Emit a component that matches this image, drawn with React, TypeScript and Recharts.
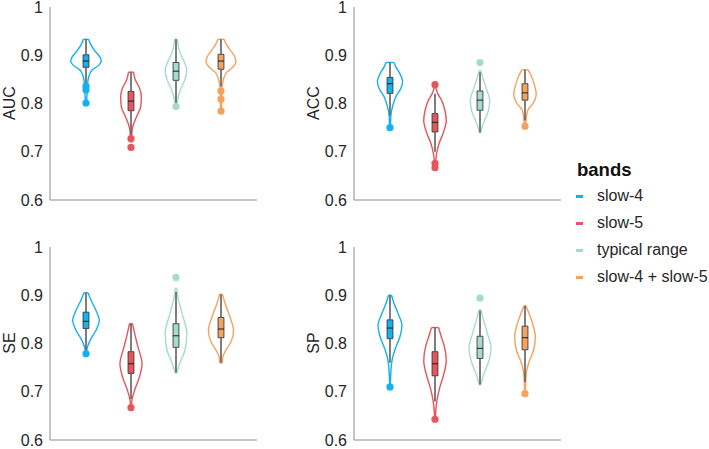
import React from 'react';
import { ComposedChart, Line, Scatter, XAxis, YAxis, ReferenceArea, ReferenceLine } from 'recharts';

const bands = ['slow-4', 'slow-5', 'typical range', 'slow-4 + slow-5'];
const bandColors = ['#12b1ef', '#e9535b', '#a5dccd', '#f5a25e'];
const yTicks = [0.6, 0.7, 0.8, 0.9, 1];

// [lower whisker, q1, median, q3, upper whisker] per band
const aucBoxes = [
  [0.84, 0.875, 0.888, 0.901, 0.933],
  [0.735, 0.785, 0.805, 0.825, 0.865],
  [0.8, 0.848, 0.867, 0.885, 0.933],
  [0.835, 0.871, 0.888, 0.902, 0.933],
];
const accBoxes = [
  [0.775, 0.821, 0.841, 0.854, 0.885],
  [0.7, 0.741, 0.761, 0.779, 0.82],
  [0.74, 0.786, 0.807, 0.826, 0.865],
  [0.765, 0.807, 0.822, 0.841, 0.87],
];
const seBoxes = [
  [0.785, 0.831, 0.846, 0.865, 0.905],
  [0.685, 0.738, 0.758, 0.783, 0.841],
  [0.74, 0.792, 0.816, 0.841, 0.907],
  [0.76, 0.812, 0.83, 0.854, 0.902],
];
const spBoxes = [
  [0.76, 0.81, 0.832, 0.849, 0.9],
  [0.68, 0.733, 0.758, 0.783, 0.833],
  [0.715, 0.769, 0.79, 0.815, 0.868],
  [0.72, 0.787, 0.812, 0.836, 0.878],
];

// outlier points per band
const aucOutliers = [[0.836, 0.828, 0.801], [0.727, 0.709], [0.794], [0.826, 0.809, 0.784]];
const accOutliers = [[0.75], [0.839, 0.676, 0.667], [0.885], [0.753]];
const seOutliers = [[0.779], [0.667], [0.937], []];
const spOutliers = [[0.71], [0.643], [0.894], [0.696]];

// violin outline: [value, half width (fraction of band spacing)], top to bottom
const aucViolins = [
  [[0.933, 0.06], [0.924, 0.095], [0.91, 0.19], [0.896, 0.31], [0.888, 0.34], [0.879, 0.28], [0.869, 0.13], [0.855, 0.06], [0.845, 0.04], [0.83, 0.03], [0.8, 0.01]],
  [[0.865, 0.055], [0.848, 0.1], [0.834, 0.18], [0.814, 0.23], [0.793, 0.215], [0.776, 0.14], [0.758, 0.06], [0.745, 0.025], [0.72, 0.01]],
  [[0.933, 0.03], [0.92, 0.05], [0.903, 0.1], [0.885, 0.19], [0.868, 0.24], [0.85, 0.2], [0.831, 0.11], [0.814, 0.05], [0.8, 0.02], [0.794, 0.01]],
  [[0.933, 0.07], [0.924, 0.11], [0.91, 0.21], [0.896, 0.31], [0.886, 0.33], [0.875, 0.26], [0.865, 0.13], [0.852, 0.06], [0.841, 0.035], [0.83, 0.02], [0.784, 0.01]],
];
const accViolins = [
  [[0.885, 0.09], [0.876, 0.13], [0.862, 0.22], [0.845, 0.28], [0.831, 0.24], [0.814, 0.13], [0.793, 0.055], [0.776, 0.02], [0.75, 0.01]],
  [[0.835, 0.01], [0.82, 0.065], [0.807, 0.145], [0.786, 0.22], [0.764, 0.25], [0.738, 0.18], [0.717, 0.09], [0.696, 0.035], [0.683, 0.018], [0.667, 0.01]],
  [[0.868, 0.02], [0.848, 0.08], [0.827, 0.155], [0.807, 0.215], [0.786, 0.19], [0.765, 0.1], [0.748, 0.035], [0.739, 0.01]],
  [[0.87, 0.065], [0.859, 0.13], [0.838, 0.21], [0.819, 0.25], [0.8, 0.18], [0.787, 0.065], [0.773, 0.033], [0.762, 0.022], [0.753, 0.01]],
];
const seViolins = [
  [[0.905, 0.045], [0.89, 0.11], [0.869, 0.22], [0.848, 0.295], [0.827, 0.22], [0.81, 0.11], [0.793, 0.033], [0.783, 0.01]],
  [[0.841, 0.033], [0.821, 0.08], [0.793, 0.155], [0.758, 0.245], [0.731, 0.19], [0.703, 0.08], [0.683, 0.022], [0.672, 0.01]],
  [[0.914, 0.02], [0.89, 0.055], [0.862, 0.135], [0.821, 0.24], [0.786, 0.2], [0.765, 0.11], [0.748, 0.045], [0.738, 0.018]],
  [[0.902, 0.033], [0.883, 0.09], [0.855, 0.2], [0.827, 0.28], [0.803, 0.22], [0.783, 0.09], [0.769, 0.033], [0.76, 0.033]],
];
const spViolins = [
  [[0.9, 0.033], [0.883, 0.09], [0.862, 0.18], [0.838, 0.265], [0.814, 0.22], [0.79, 0.12], [0.765, 0.045], [0.745, 0.022], [0.724, 0.011], [0.71, 0.005]],
  [[0.833, 0.078], [0.817, 0.13], [0.793, 0.21], [0.765, 0.25], [0.738, 0.2], [0.71, 0.11], [0.683, 0.045], [0.662, 0.018], [0.645, 0.01]],
  [[0.87, 0.022], [0.849, 0.078], [0.821, 0.165], [0.79, 0.245], [0.759, 0.18], [0.735, 0.078], [0.721, 0.033], [0.714, 0.011]],
  [[0.878, 0.022], [0.862, 0.09], [0.838, 0.18], [0.814, 0.23], [0.786, 0.19], [0.762, 0.09], [0.741, 0.033], [0.724, 0.018], [0.7, 0.01]],
];

const panels = [
  { metric: 'AUC', boxes: aucBoxes, outliers: aucOutliers, violins: aucViolins, left: 0, top: 0 },
  { metric: 'ACC', boxes: accBoxes, outliers: accOutliers, violins: accViolins, left: 304, top: 0 },
  { metric: 'SE', boxes: seBoxes, outliers: seOutliers, violins: seViolins, left: 0, top: 240 },
  { metric: 'SP', boxes: spBoxes, outliers: spOutliers, violins: spViolins, left: 304, top: 240 },
];

const font = '"Liberation Sans", Arial, Helvetica, sans-serif';
const textColor = '#262626';
const axisColor = '#8a8a8a';
const boxHalf = 0.065;

const fmtTick = (v: number) => (v === 1 ? '1' : v.toFixed(1));

const Dot = (props: any) => <circle cx={props.cx} cy={props.cy} r={3.6} fill={props.fill} />;

function ViolinPanel({ metric, boxes, outliers, violins, left, top }: any) {
  return (
    <div style={{ position: 'absolute', left, top }}>
      <ComposedChart width={262} height={212} margin={{ top: 7, right: 5, bottom: 11, left: 0 }}>
        <XAxis
          type="number"
          dataKey="x"
          domain={[0.2, 4.8]}
          allowDataOverflow
          tick={false}
          tickLine={false}
          axisLine={{ stroke: axisColor }}
          height={1}
        />
        <YAxis
          type="number"
          dataKey="y"
          domain={[0.6, 1]}
          allowDataOverflow
          ticks={yTicks}
          interval={0}
          tickFormatter={fmtTick}
          tickLine={false}
          tickSize={5}
          tickMargin={2}
          width={50}
          axisLine={{ stroke: axisColor }}
          tick={{ fill: textColor, fontSize: 16, fontFamily: font }}
        />
        {violins.map((profile: number[][], i: number) =>
          [-1, 1].map((side) => (
            <Line
              key={`v${i}${side}`}
              data={profile.map(([v, w]) => ({ x: i + 1 + side * w, y: v }))}
              dataKey="y"
              type="monotoneY"
              stroke={bandColors[i]}
              strokeWidth={1.4}
              dot={false}
              activeDot={false}
              legendType="none"
              isAnimationActive={false}
            />
          ))
        )}
        {violins.map((profile: number[][], i: number) => {
          const c = i + 1;
          const first = profile[0];
          const last = profile[profile.length - 1];
          return [first, last].map(([v, w], k) => (
            <ReferenceLine
              key={`cap${i}${k}`}
              segment={[{ x: c - w, y: v }, { x: c + w, y: v }]}
              stroke={bandColors[i]}
              strokeWidth={1.4}
            />
          ));
        })}
        {boxes.map(([lo, q1, , q3, hi]: number[], i: number) => [
          <ReferenceLine
            key={`wl${i}`}
            segment={[{ x: i + 1, y: lo }, { x: i + 1, y: q1 }]}
            stroke="#5e5e5e"
            strokeWidth={1.6}
          />,
          <ReferenceLine
            key={`wh${i}`}
            segment={[{ x: i + 1, y: q3 }, { x: i + 1, y: hi }]}
            stroke="#5e5e5e"
            strokeWidth={1.6}
          />,
        ])}
        {boxes.map(([, q1, , q3]: number[], i: number) => (
          <ReferenceArea
            key={`box${i}`}
            x1={i + 1 - boxHalf}
            x2={i + 1 + boxHalf}
            y1={q1}
            y2={q3}
            fill={bandColors[i]}
            fillOpacity={1}
            stroke="#3a3a3a"
            strokeWidth={0.9}
          />
        ))}
        {boxes.map(([, , med]: number[], i: number) => (
          <ReferenceLine
            key={`med${i}`}
            segment={[{ x: i + 1 - boxHalf, y: med }, { x: i + 1 + boxHalf, y: med }]}
            stroke="#1a1a1a"
            strokeWidth={1}
          />
        ))}
        {outliers.map((pts: number[], i: number) => (
          <Scatter
            key={`o${i}`}
            data={pts.map((v) => ({ x: i + 1, y: v }))}
            fill={bandColors[i]}
            shape={<Dot />}
            legendType="none"
            isAnimationActive={false}
          />
        ))}
      </ComposedChart>
      <div
        style={{
          position: 'absolute',
          left: 10,
          top: 103,
          transform: 'translate(-50%, -50%) rotate(-90deg)',
          fontFamily: font,
          fontSize: 16,
          color: textColor,
          whiteSpace: 'nowrap',
        }}
      >
        {metric}
      </div>
    </div>
  );
}

export default function App() {
  return (
    <div style={{ position: 'absolute', left: 0, top: 0, width: 709, height: 449, background: '#fff', fontFamily: font }}>
      {panels.map((p) => (
        <ViolinPanel key={p.metric} {...p} />
      ))}
      <div style={{ position: 'absolute', left: 577, top: 159, fontSize: 18.5, fontWeight: 700, color: '#111' }}>bands</div>
      {bands.map((b, i) => (
        <div key={b} style={{ position: 'absolute', left: 576, top: 185 + i * 27, height: 22, display: 'flex', alignItems: 'center' }}>
          <div style={{ width: 7, height: 3, background: bandColors[i], marginRight: 14 }} />
          <span style={{ fontSize: 16, color: textColor, whiteSpace: 'nowrap' }}>{b}</span>
        </div>
      ))}
    </div>
  );
}
